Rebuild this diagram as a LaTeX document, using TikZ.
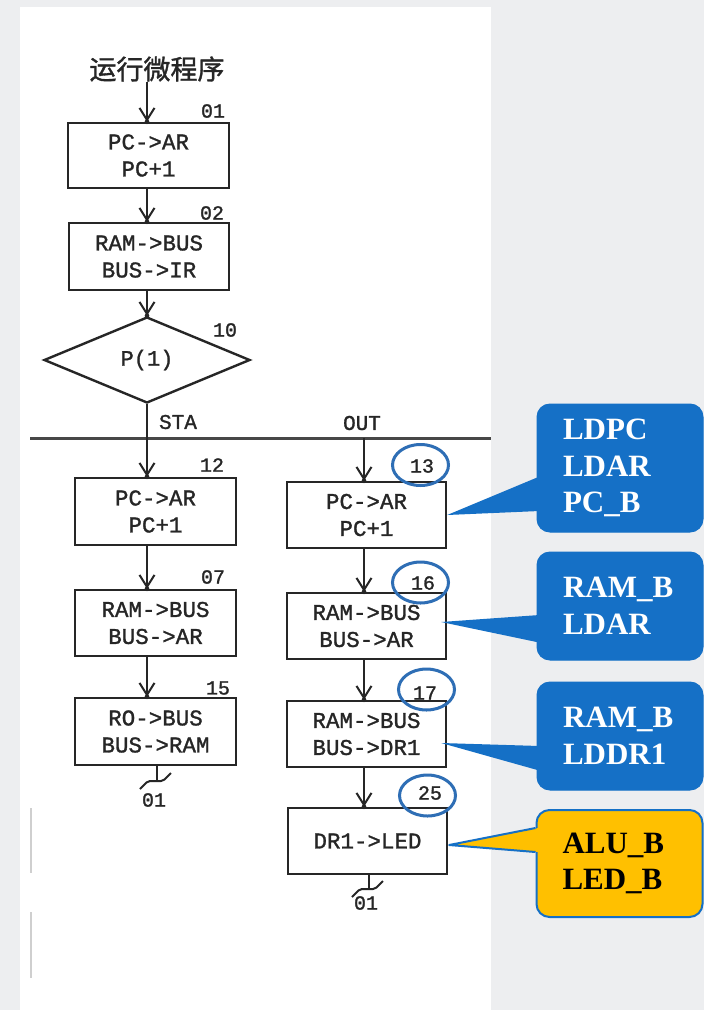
\documentclass[tikz,border=0pt]{standalone}
\usepackage{fontspec}
\usetikzlibrary{shapes.geometric,arrows.meta}
\newfontfamily\cjkfont{Noto Sans CJK SC}[FakeBold=1.2]
\newfontfamily\boxmono{Liberation Mono}[FakeBold=1.3]
\newfontfamily\calloutfont{Liberation Serif}
\definecolor{bgcol}{HTML}{EDEEF0}
\definecolor{ink}{HTML}{262626}
\definecolor{callblue}{HTML}{1570C6}
\definecolor{ringblue}{HTML}{2E6EB5}
\definecolor{callyellow}{HTML}{FFC000}
\definecolor{faint}{HTML}{CFCFCF}
\newcommand{\flowarrow}[2]{\draw[flow] (#1) -- (#2); \fill[ink] (#2) circle (2.3pt);}
\begin{document}
\begin{tikzpicture}[x=1pt,y=-1pt,
  stepbox/.style={draw=ink, line width=2.4pt, rectangle, minimum width=160pt,
    minimum height=66pt, inner sep=0pt, align=center, text=ink,
    font=\boxmono\fontsize{22.5}{27}\selectfont},
  numlab/.style={font=\boxmono\fontsize{20}{20}\selectfont, text=ink, inner sep=0pt},
  flow/.style={draw=ink, line width=2pt, -{Straight Barb[length=12pt,width=15pt]}},
  ring/.style={ellipse, draw=ringblue, line width=3pt, minimum width=56pt,
    minimum height=41pt, inner sep=0pt},
  callbox/.style={fill=callblue, draw=callblue, line width=1pt, rounded corners=13pt,
    minimum width=166pt, text width=114pt, inner xsep=26pt, inner ysep=0pt,
    align=left, text=white, font=\calloutfont\bfseries\fontsize{31}{36.5}\selectfont},
  callyel/.style={callbox, fill=callyellow, line width=2pt, text=black}
]
\useasboundingbox (0,0) rectangle (704,1010);
\fill[bgcol] (0,0) rectangle (704,1010);
\fill[white] (20,7) rectangle (491,1010);
\draw[faint, line width=1.5pt] (31,808) -- (31,873);
\draw[faint, line width=1.5pt] (31,912) -- (31,978);

% column axes
\coordinate (axL) at (147,0);
\coordinate (axR) at (364,0);

% title and top column
\node[font=\cjkfont\fontsize{27}{27}\selectfont, text=ink, inner sep=0pt] (title) at (157,69) {运行微程序};
\node[stepbox, minimum width=161pt, minimum height=65pt] (b01) at (148.5,155.5) {PC->AR\\PC+1};
\node[stepbox, minimum height=67pt] (b02) at (149,256.5) {RAM->BUS\\BUS->IR};
\node[diamond, draw=ink, line width=2.4pt, minimum width=206pt, minimum height=86pt,
  inner sep=0pt, text=ink, font=\boxmono\fontsize{22}{22}\selectfont] (dia) at (147,360) {P(1)};
\node[numlab] at (213,111) {01};
\node[numlab] at (212,213) {02};
\node[numlab] at (225,330) {10};

\flowarrow{title.south -| axL}{b01.north -| axL}
\flowarrow{b01.south -| axL}{b02.north -| axL}
\flowarrow{b02.south -| axL}{dia.north}

% branch line
\coordinate (hlL) at (30,438);
\coordinate (hlR) at (491,438);
\draw[draw=ink!85, line width=3pt] (hlL) -- (hlR);
\draw[draw=ink, line width=2pt] (dia.south) -- (dia.south |- hlL);
\node[numlab, font=\boxmono\fontsize{21}{21}\selectfont] at (178,422) {STA};
\node[numlab, font=\boxmono\fontsize{21}{21}\selectfont] at (362,423) {OUT};

% left column
\node[stepbox, minimum width=161pt, minimum height=67pt] (b12) at (155.5,511.5) {PC->AR\\PC+1};
\node[stepbox, minimum width=161pt] (b07) at (155.5,623) {RAM->BUS\\BUS->AR};
\node[stepbox, minimum width=161pt, minimum height=67pt] (b15) at (155.5,731.5) {RO->BUS\\BUS->RAM};
\node[numlab] at (212,465) {12};
\node[numlab] at (213,577) {07};
\node[numlab] at (218,688) {15};
\flowarrow{hlL -| axL}{b12.north -| axL}
\flowarrow{b12.south -| axL}{b07.north -| axL}
\flowarrow{b07.south -| axL}{b15.north -| axL}
\coordinate (tL) at (157,781);
\draw[draw=ink, line width=2pt] (b15.south -| tL) -- (tL);
\draw[draw=ink, line width=2pt, rounded corners=2pt] (140,789) -- (148,781) -- (163,781) -- (171,773);
\node[numlab] at (154,800) {01};

% right column
\node[stepbox, minimum width=159pt] (b13) at (366.5,515) {PC->AR\\PC+1};
\node[stepbox, minimum width=159pt] (b16) at (366.5,626) {RAM->BUS\\BUS->AR};
\node[stepbox, minimum width=159pt] (b17) at (366.5,734) {RAM->BUS\\BUS->DR1};
\node[stepbox, minimum width=159pt] (b25) at (367.5,841) {DR1->LED};
\flowarrow{hlL -| axR}{b13.north -| axR}
\flowarrow{b13.south -| axR}{b16.north -| axR}
\flowarrow{b16.south -| axR}{b17.north -| axR}
\flowarrow{b17.south -| axR}{b25.north -| axR}
\coordinate (tR) at (369,889);
\draw[draw=ink, line width=2pt] (b25.south -| tR) -- (tR);
\draw[draw=ink, line width=2pt, rounded corners=2pt] (352,897) -- (360,889) -- (375,889) -- (383,881);
\node[numlab] at (366,903) {01};

% circled step numbers
\node[ring] (e13) at (420.5,465) {};
\node[ring] (e16) at (420.5,582.5) {};
\node[ring] (e17) at (426.5,689.5) {};
\node[ring] (e25) at (427.5,795.5) {};
\node[numlab] at (422,466) {13};
\node[numlab] at (423,583) {16};
\node[numlab] at (425,693) {17};
\node[numlab] at (430,793) {25};

% callouts
\node[callbox, minimum height=128pt] (c1) at (620,468) {LDPC\\LDAR\\PC\_B};
\node[callbox, minimum height=108pt] (c2) at (620,606) {RAM\_B\\LDAR};
\node[callbox, minimum height=108pt] (c3) at (620,736) {RAM\_B\\LDDR1};
\node[callyel, minimum width=165pt, minimum height=107pt] (c4) at (619.5,863.5) {ALU\_B\\LED\_B};

\fill[callblue] ([xshift=3pt,yshift=-8.5pt]c1.west) -- (b13.east) -- ([xshift=3pt,yshift=-43pt]c1.west) -- cycle;
\fill[callblue] ([xshift=3pt,yshift=-9pt]c2.west) -- ([xshift=-6pt,yshift=4pt]b16.east) -- ([xshift=3pt,yshift=-36.6pt]c2.west) -- cycle;
\fill[callblue] ([xshift=3pt,yshift=-10pt]c3.west) -- ([xshift=-6pt,yshift=-9pt]b17.east) -- ([xshift=3pt,yshift=-34.6pt]c3.west) -- cycle;
\fill[callyellow] ([xshift=3pt,yshift=35.5pt]c4.west) -- ([xshift=1pt,yshift=-4pt]b25.east) -- ([xshift=3pt,yshift=11.5pt]c4.west) -- cycle;
\draw[callblue, line width=2pt, line join=round] ([yshift=35.5pt]c4.west) -- ([xshift=1pt,yshift=-4pt]b25.east) -- ([yshift=11.5pt]c4.west);
\end{tikzpicture}
\end{document}
